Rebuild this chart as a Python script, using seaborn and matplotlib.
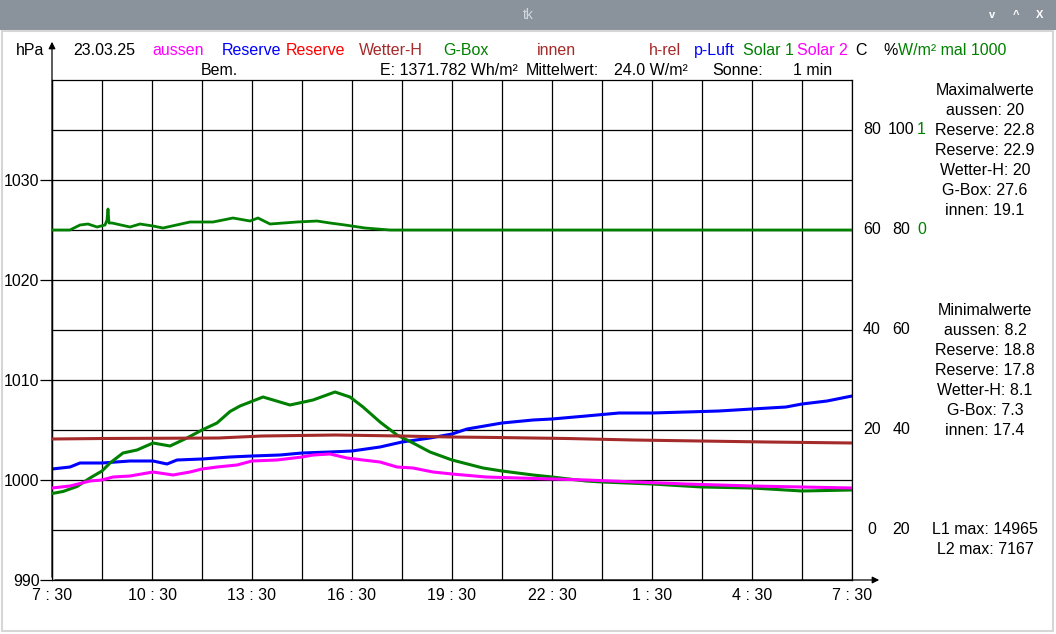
import numpy as np
import pandas as pd
import matplotlib.pyplot as plt
from matplotlib.patches import Rectangle
import seaborn as sns

# Zeit in Stunden nach 7:30 (23.03.25), Messreihen
t_gbox = [0, 0.33, 0.75, 1.14, 1.5, 1.74, 2.13, 2.55, 3.03, 3.54, 4.05, 4.5, 4.95,
          5.34, 5.64, 6.33, 7.14, 7.83, 8.49, 8.94, 9.33, 9.84, 10.35, 10.83, 11.34,
          12.0, 12.93, 13.5, 14.43, 15.0, 16.02, 16.5, 18.0, 19.5, 21.0, 22.5, 24.0]
gbox = [7.3, 7.7, 8.7, 10.4, 11.8, 13.4, 15.4, 16.0, 17.4, 16.8, 18.4, 20.0, 21.4,
        23.7, 24.8, 26.6, 25.0, 26.0, 27.6, 26.6, 24.6, 21.6, 19.0, 17.4, 15.6,
        14.0, 12.4, 11.8, 11.0, 10.6, 9.8, 9.6, 9.2, 8.6, 8.4, 7.8, 8.0]

t_aussen = [0, 0.54, 1.14, 1.5, 1.83, 2.34, 3.03, 3.63, 4.14, 4.5, 4.95, 5.55, 6.0,
            6.75, 7.5, 7.83, 8.34, 8.85, 9.33, 9.84, 10.35, 10.83, 11.43, 12.0,
            13.02, 14.01, 15.0, 16.02, 17.52, 19.02, 21.0, 22.5, 24.0]
aussen = [8.4, 8.8, 9.8, 10.0, 10.6, 10.8, 11.6, 11.0, 11.6, 12.2, 12.6, 13.0, 13.8,
          14.0, 14.6, 15.0, 15.2, 14.4, 14.0, 13.6, 12.6, 12.4, 11.6, 11.2,
          10.6, 10.4, 10.2, 10.0, 9.6, 9.2, 8.8, 8.6, 8.4]

t_luft = [0, 0.54, 0.84, 1.5, 2.34, 3.03, 3.45, 3.75, 4.5, 5.34, 6.0, 6.84, 7.5,
          8.34, 9.0, 9.84, 10.5, 11.34, 12.0, 12.45, 13.5, 14.43, 15.0, 16.02,
          17.01, 18.0, 19.02, 20.01, 21.0, 22.02, 22.5, 23.25, 24.0]
p_luft = [1001.1, 1001.3, 1001.7, 1001.7, 1001.9, 1001.9, 1001.6, 1002.0, 1002.1,
          1002.3, 1002.4, 1002.5, 1002.7, 1002.8, 1002.9, 1003.3, 1003.8, 1004.2,
          1004.6, 1005.1, 1005.7, 1006.0, 1006.1, 1006.4, 1006.7, 1006.7, 1006.8,
          1006.9, 1007.1, 1007.3, 1007.6, 1007.9, 1008.4]

t_innen = [0, 1.5, 5.0, 6.3, 8.5, 10.5, 11.94, 13.35, 15.45, 17.43, 19.44, 21.45, 24.0]
innen = [18.2, 18.3, 18.4, 18.8, 19.0, 18.8, 18.6, 18.5, 18.3, 18.0, 17.8, 17.6, 17.4]

t_solar = [0, 0.54, 0.84, 1.08, 1.35, 1.59, 1.65, 1.68, 1.71, 1.8, 2.34, 2.64, 3.03,
           3.33, 4.14, 4.83, 5.43, 5.94, 6.18, 6.54, 7.35, 7.95, 8.34, 8.79, 9.39,
           10.14, 24.0]
solar1 = [0.0, 0.0, 0.05, 0.06, 0.03, 0.05, 0.10, 0.21, 0.07, 0.07, 0.03, 0.06, 0.04,
          0.02, 0.08, 0.08, 0.12, 0.09, 0.12, 0.06, 0.08, 0.09, 0.07, 0.05, 0.02,
          0.0, 0.0]

time_ticks = [0, 3, 6, 9, 12, 15, 18, 21, 24]
time_labels = ['7 : 30', '10 : 30', '13 : 30', '16 : 30', '19 : 30',
               '22 : 30', '1 : 30', '4 : 30', '7 : 30']
hpa_ticks = [990, 1000, 1010, 1020, 1030]
c_ticks = [0, 20, 40, 60, 80]
pct_ticks = [20, 40, 60, 80, 100]
w_ticks = [0, 1]

max_lines = ['Maximalwerte', 'aussen: 20', 'Reserve: 22.8', 'Reserve: 22.9',
             'Wetter-H: 20', 'G-Box: 27.6', 'innen: 19.1']
min_lines = ['Minimalwerte', 'aussen: 8.2', 'Reserve: 18.8', 'Reserve: 17.8',
             'Wetter-H: 8.1', 'G-Box: 7.3', 'innen: 17.4']
l_lines = ['L1 max: 14965', 'L2 max: 7167']

MAGENTA = '#ff00ff'
BLUE = '#0000ff'
RED = '#ff0000'
BROWN = '#a52a2a'
GREEN = '#008000'

W, H = 1056, 634
FS = 11.5

sns.set_theme(style='white')
plt.rcParams['font.family'] = ['Liberation Sans', 'DejaVu Sans']

fig = plt.figure(figsize=(W / 100, H / 100), dpi=100)
fig.patch.set_facecolor('white')

# Fensterrahmen (tk)
fig.patches.append(Rectangle((0, 1 - 30 / H), 1, 30 / H, transform=fig.transFigure,
                             facecolor='#8a939b', edgecolor='none', zorder=0))
fig.patches.append(Rectangle((1.5 / W, 3 / H), 1051 / W, (H - 34) / H,
                             transform=fig.transFigure, facecolor='none',
                             edgecolor='#d6d6d6', linewidth=1.5, zorder=0))
fig.text(528 / W, 1 - 15 / H, 'tk', color='#d4d8dc', fontsize=10, ha='center', va='center')
for xi, s in [(992, 'v'), (1016, '^'), (1040, 'X')]:
    fig.text(xi / W, 1 - 15 / H, s, color='white', fontsize=8, fontweight='bold',
             ha='center', va='center')

ax = fig.add_axes([52 / W, 54 / H, 800 / W, 500 / H])
ax_c = ax.twinx()
ax_p = ax.twinx()
ax_s = ax.twinx()

ax.set_xlim(0, 24)
ax.set_ylim(990, 1040)
ax_c.set_ylim(-10, 90)
ax_p.set_ylim(10, 110)
ax_s.set_ylim(-3.5, 1.5)
for a in (ax_c, ax_p, ax_s):
    a.set_axis_off()

ax.set_facecolor('white')
ax.set_xticks(time_ticks)
ax.set_xticklabels(time_labels)
ax.set_xticks(np.arange(1.5, 24, 3), minor=True)
ax.set_yticks(hpa_ticks)
ax.set_yticks(np.arange(995, 1040, 10), minor=True)
ax.grid(which='both', color='black', linewidth=0.9)
ax.tick_params(axis='x', which='both', length=0, pad=6, labelsize=FS, colors='black')
ax.tick_params(axis='y', which='major', left=True, length=8.5, width=0.9, pad=0.5,
               labelsize=FS, colors='black')
ax.tick_params(axis='y', which='minor', length=0)
for sp in ax.spines.values():
    sp.set_color('black')
    sp.set_linewidth(0.9)

# Achsenpfeile
arrow = dict(arrowstyle='-|>', color='black', lw=0.9, mutation_scale=10)
ax.annotate('', xy=(0, 1.082), xytext=(0, 0), xycoords='axes fraction',
            arrowprops=arrow, annotation_clip=False)
ax.annotate('', xy=(1.0375, 0), xytext=(0, 0), xycoords='axes fraction',
            arrowprops=arrow, annotation_clip=False)

# Messkurven
sns.lineplot(x=t_solar, y=solar1, ax=ax_s, color=GREEN, linewidth=2.0)
sns.lineplot(x=t_gbox, y=gbox, ax=ax_c, color=GREEN, linewidth=2.2)
sns.lineplot(x=t_innen, y=innen, ax=ax_c, color=BROWN, linewidth=2.2)
sns.lineplot(x=t_luft, y=p_luft, ax=ax, color=BLUE, linewidth=2.2)
sns.lineplot(x=t_aussen, y=aussen, ax=ax_c, color=MAGENTA, linewidth=2.2)
ax_c.set_xlim(0, 24)
ax_s.set_xlim(0, 24)
ax_p.set_xlim(0, 24)

# rechte Skalen
for c in c_ticks:
    ax_c.text(1.025, c, str(c), transform=ax_c.get_yaxis_transform(), ha='center',
              va='center', fontsize=FS, color='black')
for p in pct_ticks:
    ax_p.text(1.0615, p, str(p), transform=ax_p.get_yaxis_transform(), ha='center',
              va='center', fontsize=FS, color='black')
for w in w_ticks:
    ax_s.text(1.087, w, str(w), transform=ax_s.get_yaxis_transform(), ha='center',
              va='center', fontsize=FS, color=GREEN)


def px_text(x, y, s, color='black', ha='left'):
    fig.text(x / W, 1 - y / H, s, color=color, ha=ha, va='center', fontsize=FS)


header1 = [('hPa', 16, 'black'), ('23.03.25', 73, 'black'), ('aussen', 152, MAGENTA),
           ('Reserve', 222, BLUE), ('Reserve', 286, RED), ('Wetter-H', 359, BROWN),
           ('G-Box', 443, GREEN), ('innen', 537, BROWN), ('h-rel', 649, BROWN),
           ('p-Luft', 694, BLUE), ('Solar 1', 743, GREEN), ('Solar 2', 797, MAGENTA),
           ('C', 855, 'black'), ('%', 883, 'black'), ('W/m² mal 1000', 898, GREEN)]
for s, x, col in header1:
    px_text(x, 50.5, s, col)

header2 = [('Bem.', 201), ('E: 1371.782 Wh/m²', 380), ('Mittelwert:', 526),
           ('24.0 W/m²', 614), ('Sonne:', 712), ('1 min', 793)]
for s, x in header2:
    px_text(x, 70.5, s)

for i, s in enumerate(max_lines):
    px_text(985, 90.5 + 20 * i, s, ha='center')
for i, s in enumerate(min_lines):
    px_text(985, 310.5 + 20 * i, s, ha='center')
for i, s in enumerate(l_lines):
    px_text(985, 530 + 20 * i, s, ha='center')

fig.savefig('out.png', dpi=100)
